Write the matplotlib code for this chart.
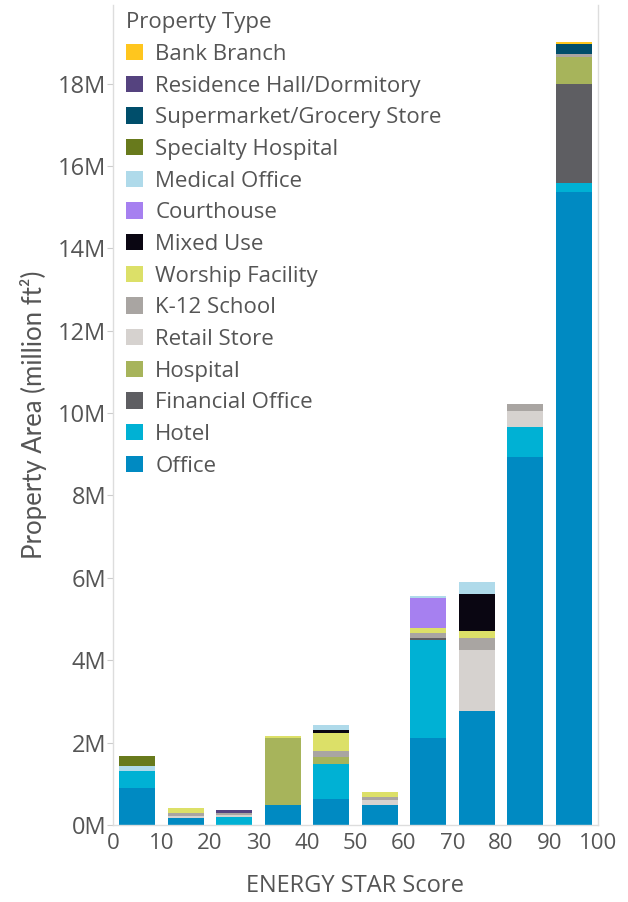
"""Stacked property area by ENERGY STAR score bin."""

import matplotlib

matplotlib.use("Agg")
import matplotlib.pyplot as plt
from matplotlib.patches import Patch
import numpy as np


bins = [5, 15, 25, 35, 45, 55, 65, 75, 85, 95]
ticks = [0, 10, 20, 30, 40, 50, 60, 70, 80, 90, 100]

# stacking order, bottom to top (millions of ft2)
office = [0.89, 0.16, 0.0, 0.48, 0.64, 0.49, 2.10, 2.76, 8.94, 15.36]
hotel = [0.42, 0.0, 0.19, 0.0, 0.84, 0.0, 2.38, 0.0, 0.73, 0.22]
financial = [0, 0, 0, 0, 0, 0, 0.06, 0, 0, 2.41]
hospital = [0, 0, 0, 1.62, 0.16, 0, 0, 0, 0, 0.65]
retail = [0, 0.06, 0.05, 0, 0, 0.12, 0, 1.48, 0.37, 0]
k12 = [0, 0.07, 0.04, 0, 0.15, 0.08, 0.12, 0.29, 0.19, 0.08]
worship = [0, 0.13, 0, 0.06, 0.45, 0.10, 0.12, 0.19, 0, 0]
mixed = [0, 0, 0, 0, 0.06, 0, 0, 0.88, 0, 0]
courthouse = [0, 0, 0, 0, 0, 0, 0.74, 0, 0, 0]
medical = [0.11, 0, 0, 0, 0.13, 0, 0.05, 0.31, 0, 0]
specialty = [0.26, 0, 0, 0, 0, 0, 0, 0, 0, 0]
supermarket = [0, 0, 0, 0, 0, 0, 0, 0, 0, 0.24]
residence = [0, 0, 0.09, 0, 0, 0, 0, 0, 0, 0]
bank = [0, 0, 0, 0, 0, 0, 0, 0, 0, 0.06]

SERIES = [
    ("Office", office, "#008ac2"),
    ("Hotel", hotel, "#00b1d4"),
    ("Financial Office", financial, "#5e5e62"),
    ("Hospital", hospital, "#a7b45b"),
    ("Retail Store", retail, "#d6d2cf"),
    ("K-12 School", k12, "#a9a5a2"),
    ("Worship Facility", worship, "#dce068"),
    ("Mixed Use", mixed, "#0a0612"),
    ("Courthouse", courthouse, "#a680f0"),
    ("Medical Office", medical, "#afdaea"),
    ("Specialty Hospital", specialty, "#687a1c"),
    ("Supermarket/Grocery Store", supermarket, "#004e6b"),
    ("Residence Hall/Dormitory", residence, "#55437f"),
    ("Bank Branch", bank, "#ffc61e"),
]

TEXT = "#555555"
plt.rcParams["font.family"] = ["Open Sans", "DejaVu Sans"]

fig = plt.figure(figsize=(6.28, 9.02), dpi=100)
ax = fig.add_axes([0.18, 0.0854, 0.772, 0.9086])

bottom = np.zeros(len(bins))
for name, vals, color in SERIES:
    vals = np.array(vals)
    ax.bar(bins, vals, width=7.4, bottom=bottom, color=color, linewidth=0)
    bottom += vals

ax.set_xlim(0, 100)
ax.set_ylim(0, 19.9)
ax.set_xticks(ticks)
ax.set_xticklabels([str(t) for t in ticks], fontsize=16, color=TEXT)
yt = np.arange(0, 19, 2)
ax.set_yticks(yt)
ax.set_yticklabels([f"{v}M" for v in yt], fontsize=17, color=TEXT)
ax.tick_params(axis="x", length=0, pad=6)
ax.tick_params(axis="y", length=4, color="#cccccc", pad=1)

ax.spines["top"].set_visible(False)
for s in ("left", "right", "bottom"):
    ax.spines[s].set_color("#dddddd")
    ax.spines[s].set_linewidth(1)

ax.set_xlabel("ENERGY STAR Score", fontsize=17, color=TEXT, labelpad=14)
ax.set_ylabel("Property Area (million ft\u00b2)", fontsize=18.5, color=TEXT,
              labelpad=8, family=["Lato", "DejaVu Sans"])

handles = [Patch(facecolor=c, label=n) for n, _, c in reversed(SERIES)]
leg = ax.legend(handles=handles, title="Property Type", loc="upper left",
                bbox_to_anchor=(0.0, 1.008), frameon=False, fontsize=16,
                title_fontsize=16, handlelength=0.75, handleheight=0.75,
                handletextpad=0.55, labelspacing=0.48, borderaxespad=0.2)
leg._legend_box.align = "left"
leg.get_title().set_color(TEXT)
for t in leg.get_texts():
    t.set_color(TEXT)

fig.savefig("out.png", dpi=100)
print("Saved out.png")
